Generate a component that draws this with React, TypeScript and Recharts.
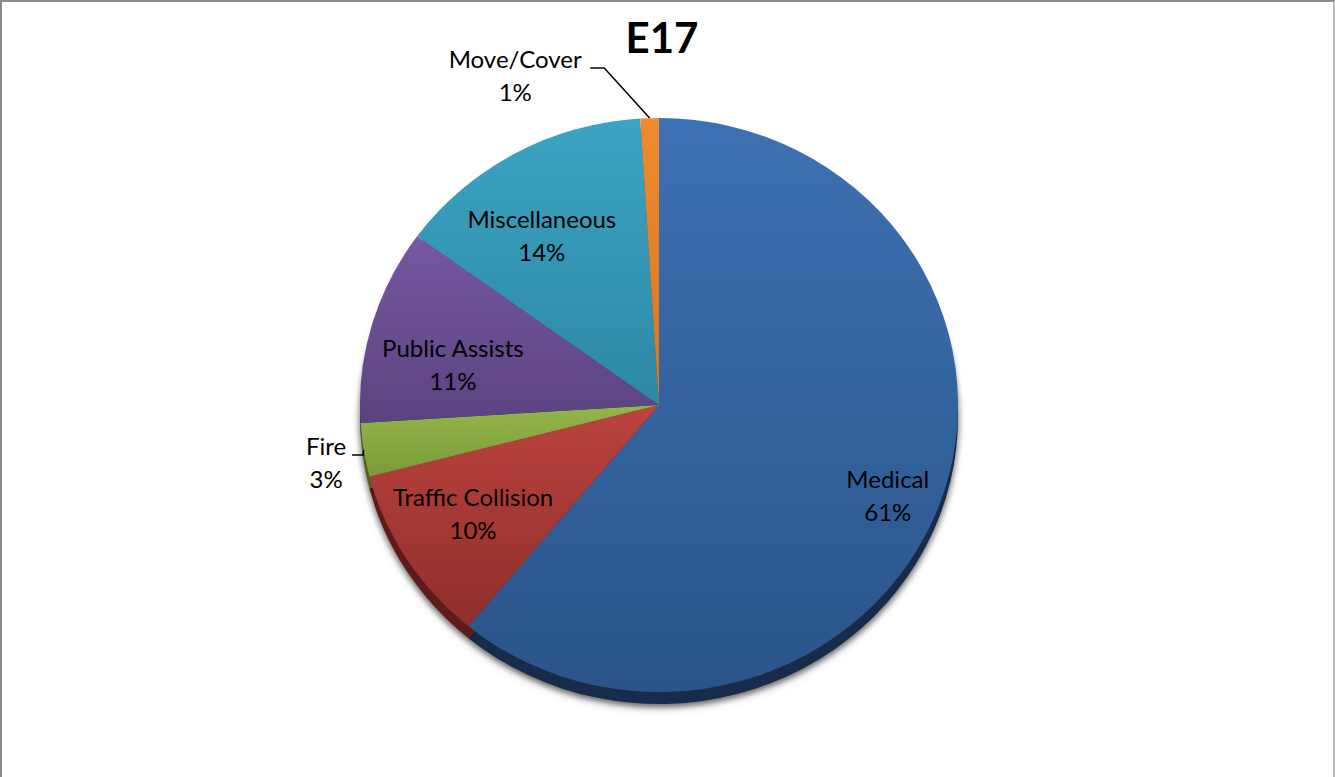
import { Pie, PieChart } from "recharts";

const categories = [
  "Medical",
  "Traffic Collision",
  "Fire",
  "Public Assists",
  "Miscellaneous",
  "Move/Cover",
];
const shares = [61, 10, 3, 11, 14, 1];

const topColors = ["#3d71b3", "#bd433e", "#95b64a", "#7657a1", "#3ba4c3", "#ef8b30"];
const bottomColors = ["#2a5489", "#8e2e2b", "#7b9a3a", "#5b4380", "#2d88a4", "#d8751f"];
const edgeColors = ["#172c4b", "#5f1b19", "#4e6322", "#3a2a55", "#1b5a6d", "#8f4a12"];

// label placement: radius factor + angle shift (deg) per slice, leader for small slices
const LABEL_LAYOUT = [
  { r: 0.827, shift: -2.5 },
  { r: 0.727, shift: -1.2 },
  { r: 1.131, shift: 1.1, leader: [37, 26] },
  { r: 0.704, shift: 4.5 },
  { r: 0.71, shift: 4.7 },
  { r: 1.246, shift: 20.9, leader: [89, 75] },
];

const CX = 659;
const CY = 405;
const RADIUS = 299;
const SQUASH = 0.96;
const DEPTH = 12;
const RADIAN = Math.PI / 180;

const data = categories.map((name, i) => ({
  name,
  value: shares[i],
  fill: `url(#grad-${i})`,
}));
const edgeData = categories.map((name, i) => ({
  name,
  value: shares[i],
  fill: edgeColors[i],
}));

function renderLabel(props: any) {
  const { cx, cy, midAngle, outerRadius, percent, index, name } = props;
  const layout = LABEL_LAYOUT[index];
  const a = (midAngle + layout.shift) * RADIAN;
  const x = cx + outerRadius * layout.r * Math.cos(-a);
  const y = cy + outerRadius * layout.r * Math.sin(-a) * SQUASH;
  let leader = null;
  if (layout.leader) {
    const m = midAngle * RADIAN;
    const ex = cx + outerRadius * Math.cos(-m);
    const ey = cy + outerRadius * Math.sin(-m) * SQUASH;
    const pts = `${ex},${ey} ${x + layout.leader[0]},${y - 7} ${x + layout.leader[1]},${y - 7}`;
    leader = <polyline points={pts} fill="none" stroke="#000" strokeWidth={1.5} />;
  }
  return (
    <g key={`lbl-${index}`}>
      {leader}
      <text x={x} y={y - 16.5} textAnchor="middle" dominantBaseline="central" fill="#000" fontSize={24}>
        {name}
      </text>
      <text x={x} y={y + 16.5} textAnchor="middle" dominantBaseline="central" fill="#000" fontSize={24}>
        {`${Math.round(percent * 100)}%`}
      </text>
    </g>
  );
}

export default function App() {
  return (
    <div
      style={{
        position: "relative",
        width: 1335,
        height: 777,
        boxSizing: "border-box",
        borderTop: "2px solid #8a8a8a",
        borderLeft: "2px solid #8a8a8a",
        borderRight: "2px solid #bdbdbd",
        background: "#fff",
        fontFamily: "Lato, 'Open Sans', sans-serif",
      }}
    >
      <style>{`
        body { margin: 0; }
        .top-pie .recharts-pie-sector { transform: scaleY(${SQUASH}); transform-origin: ${CX}px ${CY}px; }
        .edge-pie .recharts-pie-sector { transform: scaleY(${SQUASH}); transform-origin: ${CX}px ${CY + DEPTH}px; }
        .edge-pie { filter: drop-shadow(0px 3px 3px rgba(0,0,0,0.35)); }
      `}</style>
      <div style={{ position: "absolute", left: -2, top: -2 }}>
        <PieChart width={1335} height={777} margin={{ top: 0, right: 0, bottom: 0, left: 0 }}>
          <defs>
            {topColors.map((c, i) => (
              <linearGradient key={i} id={`grad-${i}`} x1="0" y1="0" x2="0" y2="1">
                <stop offset="0%" stopColor={c} />
                <stop offset="100%" stopColor={bottomColors[i]} />
              </linearGradient>
            ))}
          </defs>
          <text x={662} y={37} textAnchor="middle" dominantBaseline="central" fontSize={42} fontWeight={700} fill="#000">
            E17
          </text>
          <Pie
            className="edge-pie"
            data={edgeData}
            dataKey="value"
            nameKey="name"
            cx={CX}
            cy={CY + DEPTH}
            outerRadius={RADIUS}
            startAngle={90}
            endAngle={-270}
            stroke="none"
            isAnimationActive={false}
          />
          <Pie
            className="top-pie"
            data={data}
            dataKey="value"
            nameKey="name"
            cx={CX}
            cy={CY}
            outerRadius={RADIUS}
            startAngle={90}
            endAngle={-270}
            stroke="none"
            label={renderLabel}
            labelLine={false}
            isAnimationActive={false}
          />
        </PieChart>
      </div>
    </div>
  );
}
